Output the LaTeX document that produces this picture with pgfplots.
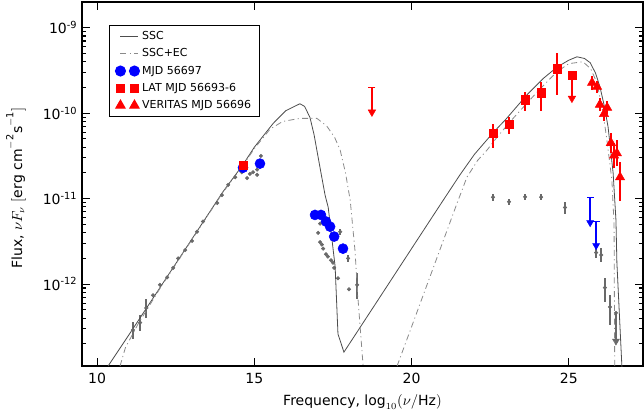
\documentclass[border=0pt]{standalone}
\usepackage{fontspec}
\setmainfont{DejaVu Sans}
\usepackage{pgfplots}
\pgfplotsset{compat=1.18}
\definecolor{curve}{HTML}{4D4D4D}
\definecolor{curvetwo}{HTML}{8A8A8A}
\definecolor{arch}{HTML}{696969}
\pgfplotsset{
  linelegend/.style={legend image code/.code={\draw[##1] (0pt,0pt) -- (13pt,0pt);}},
  twomarks/.style={legend image code/.code={\draw[##1] plot coordinates {(0pt,0pt) (10.5pt,0pt)};}},
}

% archival points: x, y, error plus, error minus
\pgfplotstableread{
x y ep em
11.14 2.9e-13 0.7e-13 0.6e-13
11.37 3.55e-13 0.8e-13 0.7e-13
11.56 5.25e-13 1.5e-13 1.2e-13
11.78 7.4e-13 0 0
12.00 9.8e-13 0 0
12.23 1.2e-12 0 0
12.42 1.55e-12 0 0
12.58 2.0e-12 0 0
12.80 2.5e-12 0 0
13.02 3.2e-12 0 0
13.18 4.1e-12 0 0
13.37 5.4e-12 0 0
13.82 8.9e-12 0 0
13.97 1.1e-11 0 0
14.17 1.45e-11 0 0
14.39 1.78e-11 0 0
14.60 2.04e-11 0 0
14.77 1.74e-11 0 0
14.86 1.95e-11 0 0
14.96 2.04e-11 0 0
15.09 2.19e-11 0 0
15.09 1.9e-11 0 0
15.21 3.16e-11 0 0
17.03 3.98e-12 0 0
17.09 3.1e-12 0 0
17.15 2.9e-12 0 0
17.19 2.6e-12 0 0
17.28 2.24e-12 0 0
17.34 2.1e-12 0 0
17.44 1.9e-12 0 0
17.50 1.78e-12 0 0
17.54 1.55e-12 0 0
17.66 1.17e-12 0 0
17.73 4.1e-12 0.3e-12 0.3e-12
17.98 2.0e-12 0.2e-12 0.2e-12
18.01 8.7e-13 0 0
18.27 9.8e-13 3.7e-13 3.1e-13
17.09 5.1e-12 0 0
22.59 1.04e-11 1.0e-12 1.0e-12
23.10 9.2e-12 0.8e-12 0.8e-12
23.61 1.05e-11 0.8e-12 0.8e-12
24.12 1.04e-11 0.8e-12 0.8e-12
24.88 7.9e-12 1.3e-12 1.3e-12
25.87 2.34e-12 0.35e-12 0.34e-12
26.03 2.19e-12 0.44e-12 0.37e-12
26.15 9.1e-13 2.6e-13 2.9e-13
26.31 5.4e-13 2.0e-13 2.1e-13
}\archival

\pgfplotstableread{
x y
10.35 1.10e-13
11.0 2.51e-13
12.0 9.1e-13
13.0 3.3e-12
14.0 1.2e-11
14.64 2.5e-11
15.0 4.0e-11
15.6 7.6e-11
16.0 1.07e-10
16.45 1.29e-10
16.6 1.2e-10
16.77 8.9e-11
16.9 5.6e-11
17.09 2.3e-11
17.25 1.1e-11
17.35 7.9e-12
17.57 1.6e-12
17.66 2.6e-13
17.85 1.6e-13
19.0 7.1e-13
20.0 2.6e-12
21.0 9.5e-12
21.54 1.9e-11
22.0 3.3e-11
22.59 5.9e-11
23.0 8.5e-11
23.67 1.64e-10
24.2 2.57e-10
24.63 3.47e-10
25.0 4.17e-10
25.26 4.57e-10
25.5 4.37e-10
25.68 3.9e-10
25.85 2.95e-10
25.99 2.04e-10
26.12 1.26e-10
26.25 6.9e-11
26.41 2.0e-11
26.5 5.6e-12
26.53 1.78e-12
26.69 1.07e-13
}\ssc

\pgfplotstableread{
x y
10.73 1.1e-13
10.9 1.8e-13
11.3 3.4e-13
12.0 8.9e-13
13.0 3.25e-12
14.0 1.18e-11
14.64 2.45e-11
15.0 3.85e-11
15.5 6.5e-11
15.9 8.0e-11
16.45 8.7e-11
16.99 8.7e-11
17.3 7.1e-11
17.55 5.25e-11
17.73 3.7e-11
17.9 2.0e-11
18.05 9.5e-12
18.2 2.5e-12
18.3 6.5e-13
18.46 1.1e-13
}\econe

\pgfplotstableread{
x y
19.54 1.1e-13
20.0 3.16e-13
20.5 1.0e-12
21.0 3.16e-12
21.45 8.9e-12
21.76 1.78e-11
22.1 2.8e-11
22.4 3.7e-11
22.72 5.25e-11
23.23 8.7e-11
24.0 1.78e-10
24.6 3.0e-10
25.0 3.8e-10
25.45 4.0e-10
25.7 3.3e-10
25.9 2.24e-10
26.09 1.0e-10
26.2 5.25e-11
26.37 1.66e-11
26.44 5.0e-12
26.46 1.1e-13
}\ectwo

\begin{document}
\begin{tikzpicture}
\begin{axis}[
  at={(0,0)}, anchor=south west,
  width=420.75pt, height=273pt, scale only axis,
  ymode=log, log basis y=10,
  xmin=9.52, xmax=27.36, ymin=1.1e-13, ymax=2e-9,
  xtick={10,15,20,25}, xticklabels={10,15,20,25},
  ytick={1e-12,1e-11,1e-10,1e-9},
  yticklabels={10\textsuperscript{-12},10\textsuperscript{-11},10\textsuperscript{-10},10\textsuperscript{-9}},
  minor ytick={2e-13,3e-13,4e-13,5e-13,6e-13,7e-13,8e-13,9e-13,
    2e-12,3e-12,4e-12,5e-12,6e-12,7e-12,8e-12,9e-12,
    2e-11,3e-11,4e-11,5e-11,6e-11,7e-11,8e-11,9e-11,
    2e-10,3e-10,4e-10,5e-10,6e-10,7e-10,8e-10,9e-10},
  tick align=inside, major tick length=6pt, minor tick length=3pt,
  every tick/.style={black, line width=0.8pt},
  axis line style={line width=1.2pt},
  tick label style={font=\fontsize{10.5}{12}\selectfont},
  xticklabel style={yshift=-2pt},
  xlabel={Frequency, $\log_{10}(\nu/\mathrm{Hz})$},
  ylabel={Flux, $\nu F_{\nu}\ [\mathrm{erg\ cm^{-2}s^{-1}}]$},
  label style={font=\fontsize{10.5}{12}\selectfont},
  xlabel style={at={(axis description cs:0.5,0)}, anchor=center, yshift=-27pt},
  ylabel style={at={(axis description cs:0,0.5)}, anchor=center, yshift=49.5pt, xshift=-3pt},
  legend style={at={(0.048,0.937)}, anchor=north west, draw=black, line width=0.8pt,
    font=\fontsize{8.25}{10}\selectfont, row sep=1.3pt, inner xsep=4.5pt, inner ysep=2.5pt,
    /tikz/every even column/.append style={column sep=4pt}},
  legend cell align=left,
]
% archival data
\addplot[arch, only marks, mark=*, mark size=1.3pt, forget plot,
  error bars/.cd, y dir=both, y explicit, error mark=none,
  error bar style={line width=1.1pt, arch}]
  table[x=x, y=y, y error plus=ep, y error minus=em] {\archival};
\addplot[arch, only marks, mark=*, mark size=1.3pt, forget plot,
  error bars/.cd, y dir=minus, y explicit, error mark=triangle*,
  error mark options={rotate=270, mark size=3pt, arch, fill=arch},
  error bar style={line width=1.1pt, arch}]
  table[y error minus=em] {
x y em
26.50 4.6e-13 2.5e-13
};
% models
\addplot[curve, line width=0.6pt, no marks, linelegend] table {\ssc};
\addlegendentry{SSC}
\addplot[curvetwo, line width=0.6pt, no marks, dash pattern=on 4.5pt off 2.5pt on 0.8pt off 2.5pt, linelegend]
  table {\econe};
\addlegendentry{SSC+EC}
\addplot[curvetwo, line width=0.6pt, no marks, dash pattern=on 4.5pt off 2.5pt on 0.8pt off 2.5pt, forget plot]
  table {\ectwo};
% MJD 56697
\addplot[blue, only marks, mark=*, mark size=3.75pt, mark options={draw=blue, fill=blue}, twomarks]
  table {
x y
14.64 2.3e-11
15.18 2.57e-11
16.93 6.45e-12
17.12 6.45e-12
17.28 5.4e-12
17.41 4.7e-12
17.54 3.6e-12
17.82 2.6e-12
};
\addlegendentry{MJD 56697}
\addplot[blue, only marks, mark=-, mark size=2.6pt, mark options={line width=0.8pt}, forget plot,
  error bars/.cd, y dir=minus, y explicit, error mark=triangle*,
  error mark options={rotate=270, mark size=3pt, blue, fill=blue},
  error bar style={line width=1.3pt, blue}]
  table[y error minus=em] {
x y em
25.68 1.04e-11 5.3e-12
25.87 5.4e-12 2.65e-12
};
% LAT
\addplot[red, only marks, mark=square*, mark size=3.1pt, mark options={draw=red, fill=red}, twomarks,
  error bars/.cd, y dir=both, y explicit, error mark=none,
  error bar style={line width=1.5pt, red}]
  table[y error plus=ep, y error minus=em] {
x y ep em
14.64 2.45e-11 0 0
22.59 5.8e-11 1.6e-11 1.9e-11
23.10 7.4e-11 1.7e-11 1.65e-11
23.61 1.44e-10 3.4e-11 3.7e-11
24.12 1.73e-10 5.6e-11 6.6e-11
24.63 3.3e-10 1.7e-10 1.68e-10
};
\addlegendentry{LAT MJD 56693-6}
\addplot[red, only marks, mark=square*, mark size=3.1pt, mark options={draw=red, fill=red}, forget plot,
  error bars/.cd, y dir=minus, y explicit, error mark=triangle*,
  error mark options={rotate=270, mark size=3.2pt, red, fill=red},
  error bar style={line width=1.5pt, red}]
  table[y error minus=em] {
x y em
25.10 2.8e-10 1.35e-10
};
\addplot[red, only marks, mark=-, mark size=2.6pt, mark options={line width=0.8pt}, forget plot,
  error bars/.cd, y dir=minus, y explicit, error mark=triangle*,
  error mark options={rotate=270, mark size=3.2pt, red, fill=red},
  error bar style={line width=1.5pt, red}]
  table[y error minus=em] {
x y em
18.74 2.0e-10 1.0e-10
};
% VERITAS
\addplot[red, only marks, mark=triangle*, mark size=4pt, mark options={draw=red, fill=red}, twomarks,
  error bars/.cd, y dir=both, y explicit, error mark=none,
  error bar style={line width=1.5pt, red}]
  table[y error plus=ep, y error minus=em] {
x y ep em
25.74 2.27e-10 0.45e-10 0.38e-10
25.90 2.04e-10 0.35e-10 0.30e-10
25.99 1.26e-10 0.25e-10 0.20e-10
26.22 1.16e-10 0.24e-10 0.19e-10
26.12 9.8e-11 0.20e-10 0.17e-10
26.34 4.5e-11 1.4e-11 1.1e-11
26.44 3.2e-11 1.3e-11 0.9e-11
26.53 3.4e-11 1.4e-11 1.0e-11
26.63 1.78e-11 0.9e-11 0.83e-11
};
\addlegendentry{VERITAS MJD 56696}
\end{axis}
\pgfresetboundingbox
\path (-61.5pt,-39.75pt) rectangle (421.5pt,274.5pt);
\end{tikzpicture}
\end{document}
